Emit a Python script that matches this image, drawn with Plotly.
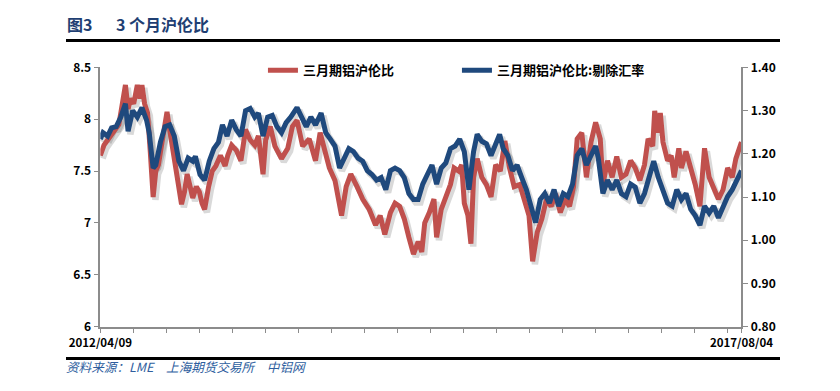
import pandas as pd
import plotly.graph_objects as go

# ---------------- data ----------------
start_date = "2012-04-09"
end_date = "2017-08-04"

# days since 2012-04-09 and 三月期铝沪伦比 (left axis)
red_days = [0, 11, 22, 34, 45, 56, 64, 76, 84, 92, 101, 112, 120, 126, 134, 143, 151, 160, 168, 176,
            188, 202, 210, 218, 227, 238, 246, 255, 263, 272, 280, 291, 300, 308, 316, 328, 339, 350, 364, 378,
            386, 398, 412, 426, 440, 454, 468, 479, 493, 501, 515, 529, 549, 568, 582, 596, 613, 633, 652, 666,
            680, 694, 711, 731, 745, 759, 778, 795, 815, 834, 848, 862, 879, 893, 907, 921, 935, 949, 963, 974,
            983, 997, 1011, 1019, 1033, 1047, 1061, 1072, 1086, 1095, 1103, 1114, 1123, 1131, 1142, 1156, 1170, 1184, 1198, 1212,
            1226, 1240, 1254, 1271, 1285, 1299, 1310, 1324, 1338, 1352, 1366, 1380, 1394, 1408, 1422, 1434, 1445, 1459, 1473, 1487,
            1501, 1515, 1523, 1537, 1551, 1565, 1579, 1593, 1607, 1621, 1635, 1649, 1660, 1674, 1680, 1691, 1697, 1705, 1719, 1730,
            1739, 1753, 1761, 1775, 1789, 1803, 1817, 1831, 1845, 1859, 1873, 1887, 1901, 1915, 1926, 1943]
red_values = [7.65, 7.75, 7.80, 7.85, 7.90, 7.95, 8.10, 8.33, 8.10, 8.20, 8.15, 8.33, 8.20, 8.33, 8.15, 8.06, 7.70, 7.25, 7.50, 7.56,
              7.80, 8.07, 7.90, 7.74, 7.60, 7.40, 7.18, 7.30, 7.47, 7.35, 7.24, 7.35, 7.30, 7.19, 7.13, 7.35, 7.50, 7.55, 7.65, 7.55,
              7.65, 7.75, 7.70, 7.60, 7.90, 7.80, 7.75, 7.84, 7.47, 7.80, 7.93, 7.74, 7.62, 7.72, 7.93, 7.99, 7.74, 7.81, 7.60, 7.87,
              7.72, 7.53, 7.41, 7.07, 7.35, 7.47, 7.35, 7.23, 7.13, 6.98, 7.07, 6.89, 7.10, 7.19, 7.16, 7.04, 6.86, 6.70, 6.82, 6.72,
              7.00, 7.10, 7.23, 6.86, 7.13, 7.25, 7.37, 7.53, 7.50, 7.56, 7.19, 7.07, 6.80, 7.44, 7.62, 7.44, 7.37, 7.25, 7.56, 7.50,
              7.79, 7.53, 7.35, 7.37, 7.23, 7.07, 6.63, 6.91, 7.04, 7.23, 7.16, 7.28, 7.10, 7.23, 7.16, 7.35, 7.81, 7.87, 7.44, 7.78,
              7.97, 7.81, 7.37, 7.60, 7.44, 7.64, 7.44, 7.47, 7.60, 7.53, 7.41, 7.56, 7.81, 7.74, 8.08, 7.87, 8.06, 7.78, 7.60, 7.65,
              7.44, 7.72, 7.53, 7.69, 7.53, 7.37, 7.16, 7.72, 7.44, 7.32, 7.23, 7.32, 7.53, 7.44, 7.62, 7.78]

# days since 2012-04-09 and 三月期铝沪伦比:剔除汇率 (right axis)
blue_days = [0, 8, 22, 34, 48, 62, 76, 84, 98, 112, 126, 140, 148, 160, 168, 182, 196, 210, 224, 238,
             252, 266, 280, 288, 302, 316, 330, 344, 358, 370, 384, 398, 412, 426, 440, 454, 468, 479, 493, 507,
             521, 535, 549, 563, 577, 596, 610, 624, 638, 652, 669, 683, 697, 711, 725, 739, 753, 767, 781, 795,
             809, 823, 837, 851, 865, 879, 893, 907, 921, 935, 949, 963, 977, 991, 1005, 1019, 1033, 1047, 1061, 1075,
             1089, 1103, 1117, 1131, 1142, 1156, 1170, 1184, 1198, 1210, 1221, 1235, 1249, 1263, 1277, 1291, 1305, 1319, 1333, 1347,
             1361, 1375, 1389, 1403, 1417, 1431, 1445, 1459, 1473, 1487, 1501, 1509, 1523, 1537, 1551, 1565, 1579, 1593, 1607, 1621,
             1635, 1649, 1663, 1677, 1691, 1705, 1719, 1733, 1747, 1761, 1775, 1789, 1803, 1817, 1831, 1845, 1859, 1873, 1887, 1901,
             1915, 1929, 1943]
blue_values = [1.234, 1.249, 1.241, 1.260, 1.263, 1.285, 1.316, 1.252, 1.300, 1.285, 1.307, 1.278, 1.249, 1.167, 1.174, 1.227, 1.263, 1.267, 1.241, 1.183,
               1.161, 1.190, 1.183, 1.194, 1.152, 1.139, 1.183, 1.212, 1.227, 1.267, 1.241, 1.278, 1.256, 1.241, 1.300, 1.305, 1.285, 1.294, 1.241, 1.285,
               1.289, 1.263, 1.249, 1.272, 1.285, 1.307, 1.285, 1.263, 1.285, 1.267, 1.294, 1.249, 1.234, 1.218, 1.167, 1.190, 1.212, 1.205, 1.190, 1.183,
               1.161, 1.152, 1.139, 1.145, 1.117, 1.161, 1.167, 1.161, 1.145, 1.108, 1.094, 1.094, 1.130, 1.152, 1.174, 1.130, 1.167, 1.179, 1.212, 1.218,
               1.234, 1.205, 1.117, 1.205, 1.245, 1.229, 1.223, 1.196, 1.227, 1.245, 1.212, 1.196, 1.161, 1.174, 1.145, 1.117, 1.079, 1.041, 1.094, 1.108,
               1.086, 1.117, 1.079, 1.108, 1.101, 1.130, 1.196, 1.212, 1.174, 1.196, 1.218, 1.190, 1.108, 1.139, 1.117, 1.139, 1.108, 1.101, 1.130, 1.123,
               1.086, 1.108, 1.145, 1.183, 1.145, 1.117, 1.086, 1.079, 1.117, 1.094, 1.108, 1.072, 1.057, 1.035, 1.079, 1.063, 1.079, 1.052, 1.079, 1.101,
               1.117, 1.139, 1.161]

red_name = "三月期铝沪伦比"
blue_name = "三月期铝沪伦比:剔除汇率"
x_tick_labels = ["2012/04/09", "2017/08/04"]
title_prefix = "图3"
title_text = "3 个月沪伦比"
source_text = "资料来源：LME　上海期货交易所　中铝网"

# ---------------- figure ----------------
base = pd.Timestamp(start_date)
red_x = base + pd.to_timedelta(red_days, unit="D")
blue_x = base + pd.to_timedelta(blue_days, unit="D")

RED = "#C0504D"
BLUE = "#1F497D"
SHADOW = "rgba(0,0,0,0.15)"
AXIS = "#8C8C8C"
FONT = "Noto Sans CJK SC"
W, H = 840, 391
PLOT_L, PLOT_R, PLOT_T, PLOT_B = 74, 768, 60, 331      # plot area, page pixels
RULE_L, RULE_R, RULE_T, RULE_B = 37, 810, 33, 363      # header/footer rules, page pixels
pw, ph = PLOT_R - PLOT_L, PLOT_B - PLOT_T

LEFT_RANGE = [6, 8.5]
RIGHT_RANGE = [0.8, 1.4]


def fx(xp):
    return xp / W


def fy(yp):
    return (H - yp) / H


plot_xdom = [fx(PLOT_L), fx(PLOT_R)]
plot_ydom = [fy(PLOT_B), fy(PLOT_T)]
rule_xdom = [fx(RULE_L), fx(RULE_R)]
rule_ydom = [fy(RULE_B), fy(RULE_T)]

# shadow offset (pixels) expressed as axis-range shifts
sdx, sdy = 2.5, 3.0
day_ms = 86400000
span_days = (pd.Timestamp(end_date) - pd.Timestamp(start_date)).days
shift_days = round(span_days / pw * sdx, 2)
sh_x_range = [(pd.Timestamp(start_date) - pd.Timedelta(days=shift_days)).strftime("%Y-%m-%d %H:%M"),
              (pd.Timestamp(end_date) - pd.Timedelta(days=shift_days)).strftime("%Y-%m-%d %H:%M")]
lshift = (LEFT_RANGE[1] - LEFT_RANGE[0]) / ph * sdy
rshift = (RIGHT_RANGE[1] - RIGHT_RANGE[0]) / ph * sdy

fig = go.Figure()
# shadows (hidden axes x / y / y2)
fig.add_trace(go.Scatter(x=red_x, y=red_values, mode="lines", showlegend=False, hoverinfo="skip",
                         line=dict(color=SHADOW, width=6.5), xaxis="x", yaxis="y"))
fig.add_trace(go.Scatter(x=blue_x, y=blue_values, mode="lines", showlegend=False, hoverinfo="skip",
                         line=dict(color=SHADOW, width=6.5), xaxis="x", yaxis="y2"))
# main series (visible axes x2 / y3 / y4)
fig.add_trace(go.Scatter(x=red_x, y=red_values, name=red_name, mode="lines",
                         line=dict(color=RED, width=5), xaxis="x2", yaxis="y3"))
fig.add_trace(go.Scatter(x=blue_x, y=blue_values, name=blue_name, mode="lines",
                         line=dict(color=BLUE, width=5), xaxis="x2", yaxis="y4"))
# empty frame subplot whose (mirrored) axis line draws the header and footer rules
fig.add_trace(go.Scatter(x=[], y=[], mode="lines", showlegend=False, hoverinfo="skip",
                         xaxis="x5", yaxis="y5"))

hidden = dict(visible=False, showgrid=False, zeroline=False)
fig.update_layout(
    width=W, height=H,
    margin=dict(l=0, r=0, t=0, b=0, pad=0),
    paper_bgcolor="white", plot_bgcolor="rgba(0,0,0,0)",
    font=dict(family=FONT, size=12, color="#000000"),
    showlegend=True,
    legend=dict(orientation="h", x=fx(250), xanchor="left", y=fy(63), yanchor="middle",
                font=dict(size=13, family=FONT, weight="bold"), bgcolor="rgba(0,0,0,0)",
                entrywidth=149, entrywidthmode="pixels", itemwidth=30, tracegroupgap=0),
    xaxis=dict(type="date", range=sh_x_range, domain=plot_xdom, anchor="y", **hidden),
    yaxis=dict(range=[LEFT_RANGE[0] + lshift, LEFT_RANGE[1] + lshift], domain=plot_ydom,
               anchor="x", **hidden),
    yaxis2=dict(range=[RIGHT_RANGE[0] + rshift, RIGHT_RANGE[1] + rshift], overlaying="y",
                domain=plot_ydom, anchor="x", **hidden),
    xaxis2=dict(type="date", range=[start_date, end_date], overlaying="x", anchor="y3", side="bottom",
                domain=plot_xdom, showgrid=False, zeroline=False,
                showline=True, linecolor=AXIS, linewidth=1.5,
                tickvals=[start_date, end_date], ticktext=x_tick_labels,
                ticks="outside", ticklen=5, tickcolor=AXIS,
                tickfont=dict(size=11.5, family=FONT, weight="bold"),
                minor=dict(ticks="outside", tick0=start_date, dtick=100 * day_ms,
                           ticklen=5, tickcolor=AXIS, showgrid=False)),
    yaxis3=dict(range=LEFT_RANGE, dtick=0.5, tick0=6, overlaying="y", anchor="x2", side="left",
                domain=plot_ydom, showgrid=False, zeroline=False,
                showline=True, linecolor=AXIS, linewidth=1.5, ticks="outside", ticklen=5,
                tickcolor=AXIS, tickfont=dict(size=12, family=FONT, weight="bold")),
    yaxis4=dict(range=RIGHT_RANGE, dtick=0.1, tick0=0.8, tickformat=".2f", overlaying="y",
                anchor="x2", side="right", domain=plot_ydom,
                showgrid=False, zeroline=False, showline=True, linecolor=AXIS, linewidth=1.5,
                ticks="outside", ticklen=5, tickcolor=AXIS,
                tickfont=dict(size=12, family=FONT, weight="bold")),
    xaxis5=dict(domain=rule_xdom, anchor="y5", range=[0, 1], side="bottom",
                showline=True, mirror=True, linecolor="black", linewidth=3,
                showticklabels=False, ticks="", showgrid=False, zeroline=False, fixedrange=True),
    yaxis5=dict(domain=rule_ydom, anchor="x5", range=[0, 1], visible=False,
                showgrid=False, zeroline=False, fixedrange=True),
)

# title
fig.add_annotation(text=title_prefix, x=fx(36), y=fy(15), xref="paper", yref="paper",
                   xanchor="left", yanchor="middle", showarrow=False,
                   font=dict(size=16, family=FONT, color="#1F3F73", weight="bold"))
fig.add_annotation(text=title_text, x=fx(89), y=fy(15), xref="paper", yref="paper",
                   xanchor="left", yanchor="middle", showarrow=False,
                   font=dict(size=16, family=FONT, color="#1F3F73", weight="bold"))
# source
fig.add_annotation(text="<i>" + source_text + "</i>", x=fx(35), y=fy(373), xref="paper", yref="paper",
                   xanchor="left", yanchor="middle", showarrow=False,
                   font=dict(size=12.6, family=FONT, color="#2E5E9E"))

fig.write_html("out.html", config={"displayModeBar": False},
               post_script="document.body.style.margin='0';")
